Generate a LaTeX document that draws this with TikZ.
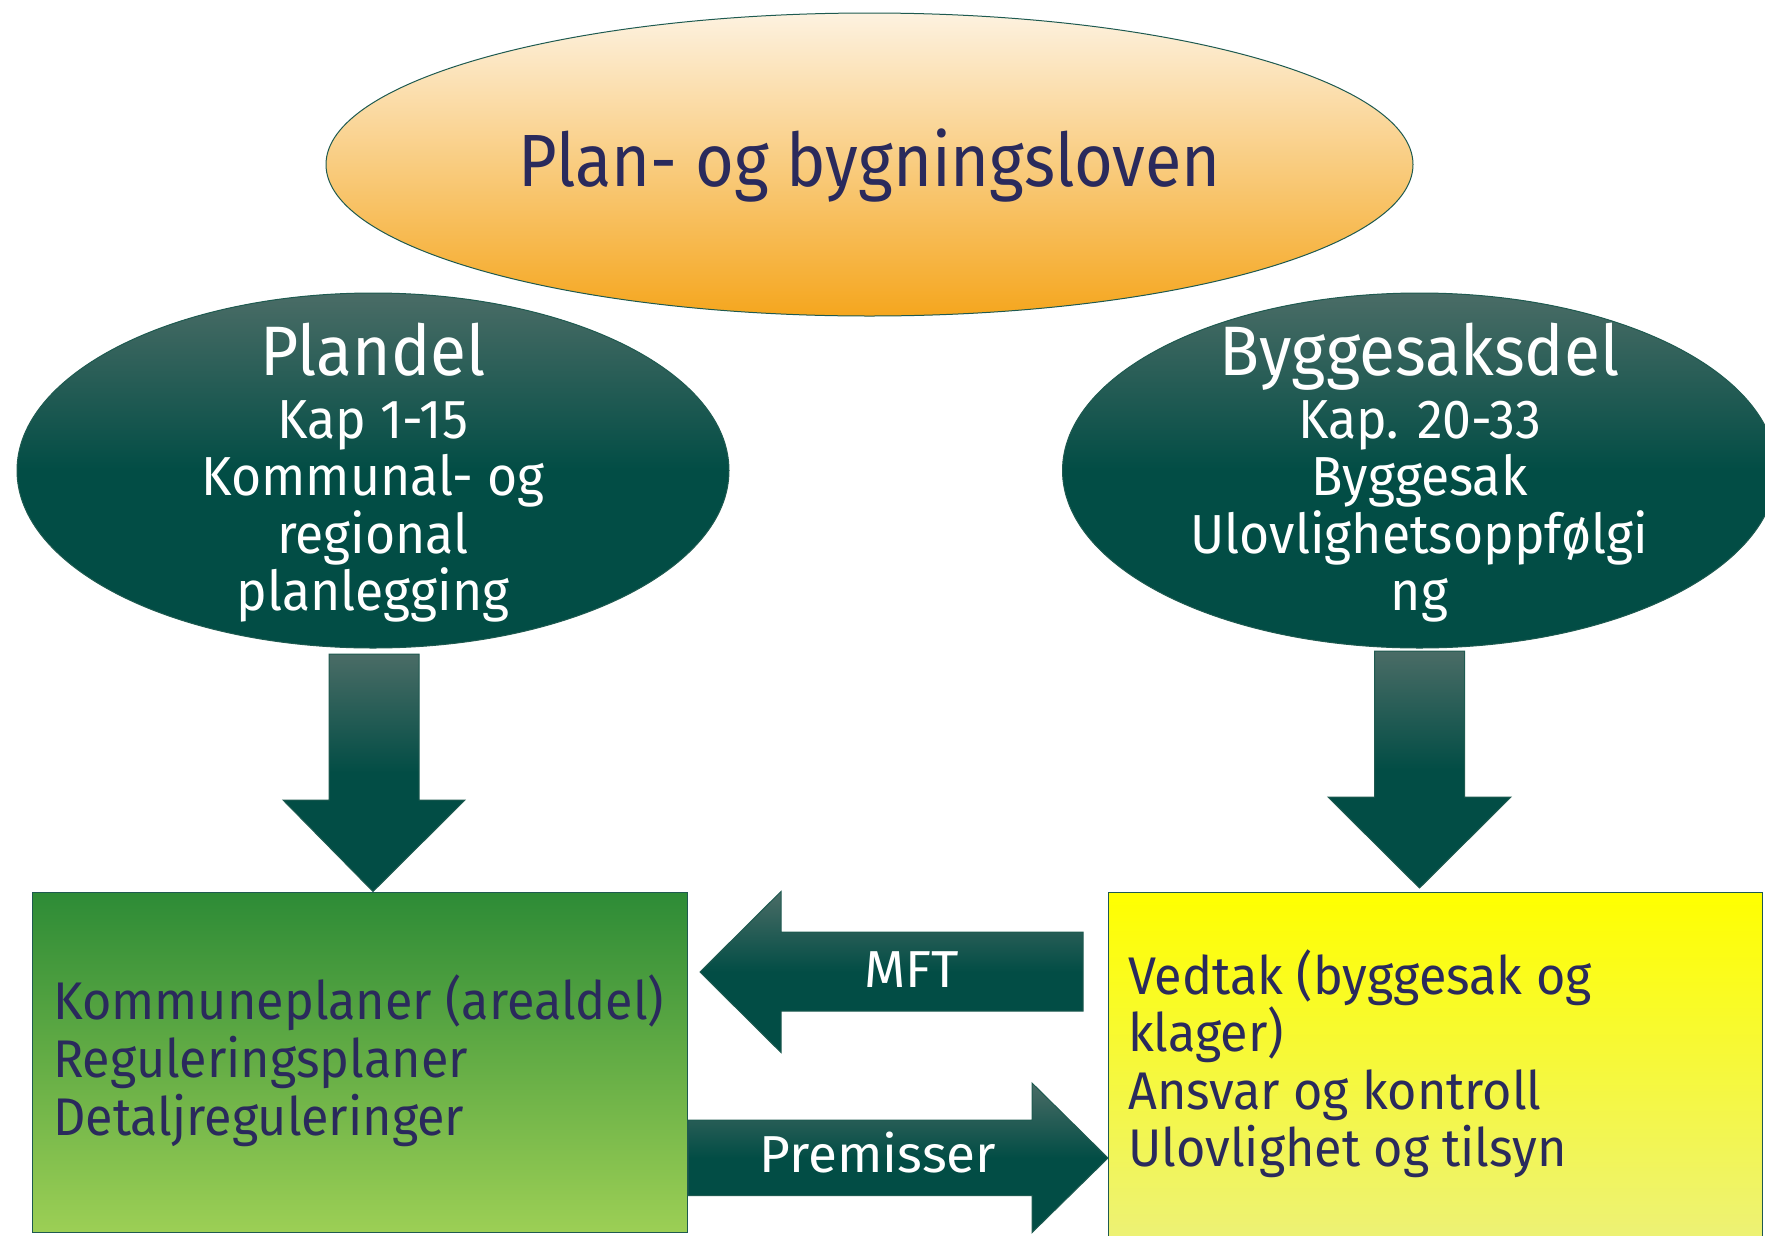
\documentclass[tikz,border=0pt]{standalone}
\usepackage{fontspec}
\setmainfont{Fira Sans}[FakeStretch=0.95]
\newfontfamily\ftitle{Fira Sans}[FakeStretch=0.90]
\newfontfamily\fhead{Fira Sans}[FakeStretch=0.94]
\newfontfamily\fsub{Fira Sans}[FakeStretch=0.94]
\newfontfamily\fboxtxt{Fira Sans}[FakeStretch=0.95]
\newfontfamily\farr{Fira Sans}[FakeStretch=1.02]
\usetikzlibrary{shapes.geometric}
\definecolor{navy}{HTML}{2A2A5C}
\definecolor{tealD}{HTML}{024D45}
\definecolor{tealL}{HTML}{4A6C66}
\definecolor{edgec}{HTML}{1E5A50}
\definecolor{orT}{HTML}{FDF2E0}
\definecolor{orM}{HTML}{F9D694}
\definecolor{orB}{HTML}{F5A61E}
\definecolor{grT}{HTML}{2D8B36}
\definecolor{grB}{HTML}{9CCF55}
\definecolor{yeT}{HTML}{FFFF00}
\definecolor{yeB}{HTML}{ECF17A}
\pgfdeclareverticalshading{tealshade}{100bp}{color(0bp)=(tealD); color(25bp)=(tealD); color(50bp)=(tealD); color(75bp)=(tealL); color(100bp)=(tealL)}
\tikzset{
  oval/.style={ellipse, draw=edgec, line width=1pt, inner sep=0pt},
  tealfill/.style={shading=tealshade, draw=edgec, line width=1pt},
  box/.style={rectangle, draw=edgec, line width=1pt, inner sep=0pt, anchor=north west},
  title/.style={anchor=base, inner sep=0pt, text=navy, font=\ftitle\fontsize{74}{80}\selectfont},
  head/.style={anchor=base, inner sep=0pt, text=white, font=\fhead\fontsize{70}{76}\selectfont},
  sub/.style={anchor=base, inner sep=0pt, text=white, font=\fsub\fontsize{55}{60}\selectfont},
  boxtxt/.style={anchor=base west, inner sep=0pt, text=navy, font=\fboxtxt\fontsize{53}{58}\selectfont},
  arrtxt/.style={anchor=base, inner sep=0pt, text=white, font=\farr\fontsize{52}{58}\selectfont},
}
\begin{document}
\begin{tikzpicture}[x=1pt,y=-1pt]
\useasboundingbox (0,0) rectangle (1765,1235);
\clip (0,0) rectangle (1765,1235);
% top ellipse
\node[oval, minimum width=1087, minimum height=303, top color=orT, middle color=orM, bottom color=orB] (pbl) at (869.5,164.5) {};
\node[title] (pblt) at (869.5,186) {Plan- og bygningsloven};
% left ellipse
\node[oval, minimum width=712, minimum height=355, shading=tealshade] (plandel) at (373,470.5) {};
\node[head] (pl1) at (373,375) {Plandel};
\node[sub] (pl2) at (373,438) {Kap 1-15};
\node[sub] (pl3) at (373,495) {Kommunal- og};
\node[sub] (pl4) at (373,553) {regional};
\node[sub] (pl5) at (373,610) {planlegging};
% right ellipse
\node[oval, minimum width=714, minimum height=355, shading=tealshade] (bygg) at (1419.5,470.5) {};
\node[head] (by1) at (1419.5,375) {Byggesaksdel};
\node[sub] (by2) at (1419.5,438) {Kap. 20-33};
\node[sub] (by3) at (1419.5,495) {Byggesak};
\node[sub] (by4) at (1419.5,553) {Ulovlighetsoppfølgi};
\node[sub] (by5) at (1419.5,610) {ng};
% boxes
\node[box, minimum width=655.5, minimum height=340, top color=grT, bottom color=grB] (green) at (31.5,891.5) {};
\node[box, minimum width=654, minimum height=360, top color=yeT, bottom color=yeB] (yellow) at (1108,891.5) {};
\node[boxtxt] (g1) at (53,1019) {Kommuneplaner (arealdel)};
\node[boxtxt] (g2) at (53,1077) {Reguleringsplaner};
\node[boxtxt] (g3) at (53,1135) {Detaljreguleringer};
\node[boxtxt] (y1) at (1128,994) {Vedtak (byggesak og};
\node[boxtxt] (y2) at (1128,1051) {klager)};
\node[boxtxt] (y3) at (1128,1109) {Ansvar og kontroll};
\node[boxtxt] (y4) at (1128,1166) {Ulovlighet og tilsyn};
% down arrows
\coordinate (tipL) at (plandel.center |- green.north);
\coordinate (tipR) at (1419.5,888);
\draw[tealfill] (329,654) -- (419,654) -- (419,800) -- (465,800) -- (tipL) -- (283,800) -- (329,800) -- cycle;
\draw[tealfill] (1374.5,651) -- (1464.5,651) -- (1464.5,797) -- (1511,797) -- (tipR) -- (1328,797) -- (1374.5,797) -- cycle;
% MFT arrow
\coordinate (tipM) at (700,972);
\draw[tealfill] (1083,932) -- (1083,1011) -- (781,1011) -- (781,1052.5) -- (tipM) -- (781,891.5) -- (781,932) -- cycle;
\node[arrtxt] (mft) at (912,987) {MFT};
% Premisser arrow
\coordinate (tipP) at (yellow.west |- 0,1158);
\draw[tealfill] (green.east |- 0,1120) -- (1032,1120) -- (1032,1083) -- (tipP) -- (1032,1232.6) -- (1032,1195.5) -- (green.east |- 0,1195.5) -- cycle;
\node[arrtxt] (prem) at (878,1172) {Premisser};
\end{tikzpicture}
\end{document}
